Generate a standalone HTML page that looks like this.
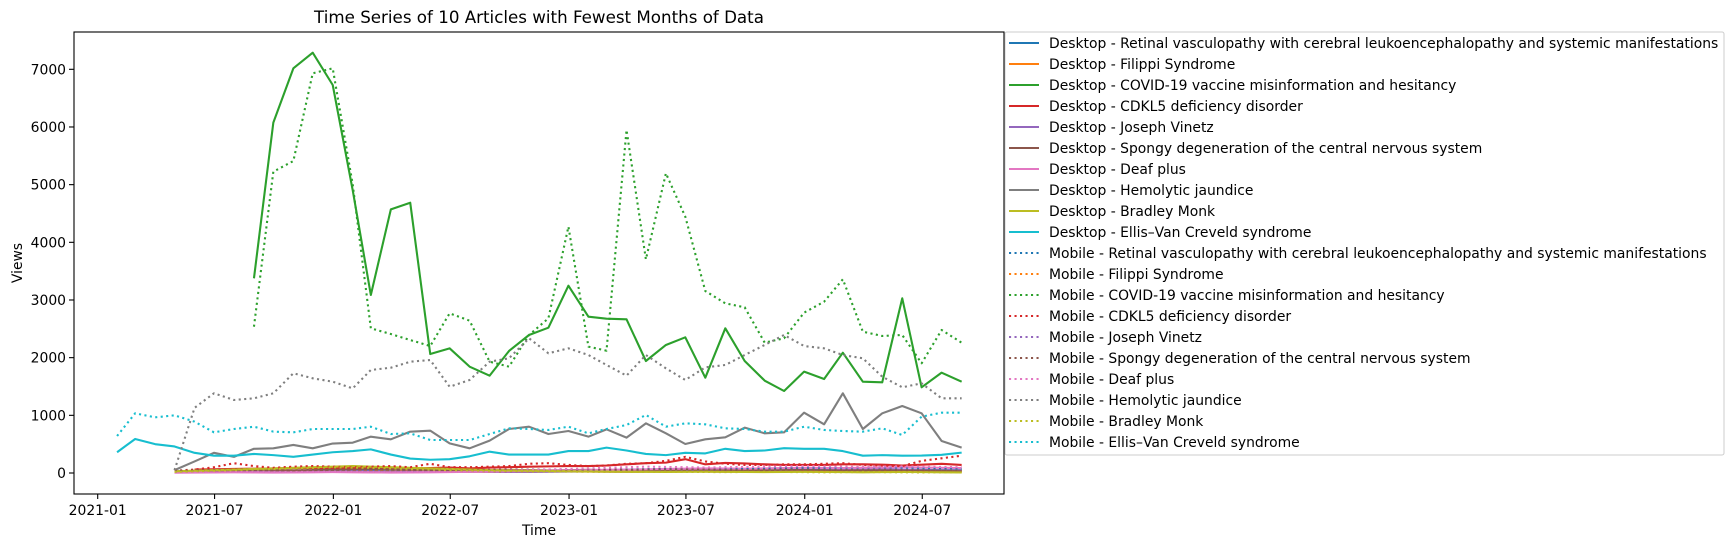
<!DOCTYPE html>
<html><head><meta charset="utf-8"><style>
html,body{margin:0;padding:0;background:#fff;}
svg{display:block;font-family:"DejaVu Sans","Liberation Sans",sans-serif;}
</style></head><body>
<svg id="chart" width="1733" height="547" viewBox="0 0 1733 547" xmlns="http://www.w3.org/2000/svg">
<rect x="0" y="0" width="1733" height="547" fill="#fff"/>
<text x="539" y="23" font-size="16.7" text-anchor="middle" fill="#000">Time Series of 10 Articles with Fewest Months of Data</text>
<text x="539" y="535" font-size="13.9" text-anchor="middle" fill="#000">Time</text>
<text x="0" y="0" font-size="13.9" text-anchor="middle" fill="#000" transform="translate(22,263) rotate(-90)">Views</text>
<defs><clipPath id="plotclip"><rect x="74" y="32" width="930" height="462"/></clipPath></defs>
<g id="series" clip-path="url(#plotclip)"></g>
<rect x="74" y="32" width="930" height="462" fill="none" stroke="#000" stroke-width="1.1"/>
<g id="axes"></g>
<g id="legend"></g>
</svg>
<script>
const articles = ["Retinal vasculopathy with cerebral leukoencephalopathy and systemic manifestations","Filippi Syndrome","COVID-19 vaccine misinformation and hesitancy","CDKL5 deficiency disorder","Joseph Vinetz","Spongy degeneration of the central nervous system","Deaf plus","Hemolytic jaundice","Bradley Monk","Ellis–Van Creveld syndrome"];
const startIdx = [3,3,7,4,3,3,3,3,3,0];
const mobileStartIdx = [3,3,7,3,3,3,3,3,3,0];
const desktopRetinal = [20,25,30,28,30,35,30,28,25,30,35,30,28,30,32,30,35,38,40,35,30,35,40,45,40,38,42,45,50,48,45,50,55,60,55,50,48,52,55,50,48];
const desktopFilippi = [15,20,22,20,25,22,20,18,20,22,25,20,18,20,22,20,25,22,20,25,28,25,22,20,25,28,30,25,22,25,28,30,25,22,25,28,30,28,25,22,20];
const desktopCovid = [3376,6075,7017,7288,6728,4900,3087,4572,4687,2063,2162,1844,1688,2116,2393,2520,3248,2711,2676,2665,1942,2220,2353,1653,2509,1942,1601,1422,1757,1630,2086,1583,1572,3029,1486,1740,1583];
const desktopCdkl5 = [60,65,70,75,80,85,85,80,85,95,90,80,85,95,80,95,100,110,115,120,120,130,150,170,180,240,150,175,165,150,140,140,140,150,150,145,130,145,160,140];
const desktopVinetz = [10,15,18,20,18,15,18,20,22,20,18,15,18,20,22,25,20,18,20,22,25,28,25,22,25,28,30,28,25,30,35,40,45,50,55,60,65,55,50,45,40];
const desktopSpongy = [30,35,40,45,50,48,45,50,55,60,65,60,55,50,45,40,45,50,48,45,50,55,50,45,48,50,55,50,45,40,45,50,48,45,40,42,45,40,38,35,30];
const desktopDeaf = [5,8,10,12,10,8,10,12,15,12,10,8,10,12,15,20,25,30,35,40,45,50,55,60,65,70,75,80,78,75,80,85,90,88,85,90,95,100,95,90,85];
const desktopHemolytic = [50,200,350,280,420,428,486,428,511,526,630,584,717,734,514,428,561,763,803,676,728,630,757,613,861,688,503,584,619,786,688,705,1046,844,1382,763,1035,1162,1035,555,439];
const desktopMonk = [30,40,50,60,70,80,90,100,110,120,110,100,90,80,70,60,50,45,40,35,30,28,25,22,20,18,20,22,20,18,15,18,20,18,15,12,15,18,15,12,10];
const desktopEllis = [360,590,500,460,350,300,300,330,310,280,320,360,380,410,320,250,230,240,290,370,320,320,320,380,380,440,390,330,310,350,340,420,380,390,430,420,420,380,300,310,300,303,315,353];
const mobileRetinal = [30,35,40,38,35,40,45,42,40,45,50,45,40,45,50,48,45,50,55,60,55,50,55,60,65,70,65,60,65,70,75,80,85,90,95,100,95,90,85,80,75];
const mobileFilippi = [20,25,30,28,25,30,35,32,30,28,25,30,35,32,30,28,25,30,35,38,40,38,35,30,28,25,30,35,38,40,38,35,32,30,28,25,28,30,32,30,28];
const mobileCovid = [2537,5225,5410,6931,7017,5000,2509,2410,2306,2202,2769,2641,1930,1844,2393,2682,4271,2191,2121,5948,3705,5197,4445,3156,2942,2873,2260,2336,2780,2971,3359,2450,2376,2393,1902,2480,2260];
const mobileCdkl5 = [40,60,100,170,120,90,110,120,110,100,110,120,100,160,100,100,110,120,160,170,140,120,130,160,170,210,280,200,160,140,140,150,150,160,170,140,130,120,210,255,300];
const mobileVinetz = [15,20,25,28,25,22,20,25,28,30,28,25,22,25,28,30,32,30,28,30,35,38,40,38,35,40,45,50,48,45,50,55,60,58,55,60,65,60,55,50,45];
const mobileSpongy = [40,45,50,55,60,58,55,60,65,70,75,70,65,60,55,50,55,60,58,55,60,65,60,55,58,60,65,60,55,50,55,60,58,55,50,52,55,50,48,45,40];
const mobileDeaf = [10,12,15,18,15,12,15,18,20,18,15,12,15,18,20,25,30,40,50,60,70,80,90,100,110,105,100,95,100,105,110,115,120,115,110,105,110,115,110,105,100];
const mobileHemolytic = [50,1130,1382,1266,1295,1382,1729,1642,1583,1468,1786,1826,1930,1959,1496,1613,1930,1989,2336,2076,2162,2046,1873,1688,2046,1815,1613,1832,1873,2046,2220,2393,2202,2162,2046,1989,1670,1486,1555,1295,1295];
const mobileMonk = [20,30,40,50,60,70,80,90,100,95,90,80,70,60,50,45,40,35,30,28,25,22,20,18,20,22,20,18,15,18,20,18,15,12,15,18,15,12,10,12,10];
const mobileEllis = [641,1035,965,1000,890,705,763,803,717,705,763,763,763,803,676,688,572,572,572,676,775,763,746,803,688,763,832,1006,803,861,844,775,763,717,717,803,746,728,717,775,659,977,1046,1046];
const yTickValues = [0,1000,2000,3000,4000,5000,6000,7000];
const xTickLabels = ["2021-01","2021-07","2022-01","2022-07","2023-01","2023-07","2024-01","2024-07"];

const desktopSeries = [desktopRetinal,desktopFilippi,desktopCovid,desktopCdkl5,desktopVinetz,desktopSpongy,desktopDeaf,desktopHemolytic,desktopMonk,desktopEllis];
const mobileSeries = [mobileRetinal,mobileFilippi,mobileCovid,mobileCdkl5,mobileVinetz,mobileSpongy,mobileDeaf,mobileHemolytic,mobileMonk,mobileEllis];
const colors = ["#1f77b4","#ff7f0e","#2ca02c","#d62728","#9467bd","#8c564b","#e377c2","#7f7f7f","#bcbd22","#17becf"];

const NS = "http://www.w3.org/2000/svg";
const DAY = 86400000;
const T0 = Date.UTC(2021,0,1);
function xScale(ms){ return 97.7 + (ms - T0)/DAY*0.6457; }
function yScale(v){ return 473 - v*0.05767; }
function monthEnd(i){ return Date.UTC(2021, i+1, 0); }
function tickDate(lbl){ const p = lbl.split("-"); return Date.UTC(+p[0], +p[1]-1, 1); }

const gS = document.getElementById("series");
function drawSeries(vals, start, color, dotted, name){
  const pts = vals.map((v,k)=> xScale(monthEnd(start+k)).toFixed(2)+","+yScale(v).toFixed(2)).join(" ");
  const pl = document.createElementNS(NS,"polyline");
  pl.setAttribute("points", pts);
  pl.setAttribute("fill","none");
  pl.setAttribute("stroke", color);
  pl.setAttribute("stroke-width","2.1");
  if (dotted) { pl.setAttribute("stroke-dasharray","2.1 3.4"); pl.setAttribute("stroke-linecap","butt"); }
  pl.setAttribute("stroke-linejoin","round");
  
  
  gS.appendChild(pl);
}
desktopSeries.forEach((s,i)=>drawSeries(s, startIdx[i], colors[i], false, "desktop-line-"+(i+1)));
mobileSeries.forEach((s,i)=>drawSeries(s, mobileStartIdx[i], colors[i], true, "mobile-line-"+(i+1)));

const gA = document.getElementById("axes");
yTickValues.forEach(v=>{
  const y = yScale(v);
  const t = document.createElementNS(NS,"line");
  t.setAttribute("x1",74); t.setAttribute("x2",69); t.setAttribute("y1",y); t.setAttribute("y2",y);
  t.setAttribute("stroke","#000"); t.setAttribute("stroke-width","1.1");
  
  
  gA.appendChild(t);
  const tx = document.createElementNS(NS,"text");
  tx.setAttribute("x",66); tx.setAttribute("y",y+5);
  tx.setAttribute("text-anchor","end"); tx.setAttribute("font-size","13.9");
  tx.textContent = String(v);
  
  
  gA.appendChild(tx);
});
xTickLabels.forEach(l=>{
  const x = xScale(tickDate(l));
  const t = document.createElementNS(NS,"line");
  t.setAttribute("x1",x); t.setAttribute("x2",x); t.setAttribute("y1",494); t.setAttribute("y2",499);
  t.setAttribute("stroke","#000"); t.setAttribute("stroke-width","1.1");
  
  
  gA.appendChild(t);
  const tx = document.createElementNS(NS,"text");
  tx.setAttribute("x",x); tx.setAttribute("y",515);
  tx.setAttribute("text-anchor","middle"); tx.setAttribute("font-size","13.9");
  tx.textContent = l;
  
  
  gA.appendChild(tx);
});

const gL = document.getElementById("legend");
const box = document.createElementNS(NS,"rect");
box.setAttribute("x",1005); box.setAttribute("y",32); box.setAttribute("width",719); box.setAttribute("height",423);
box.setAttribute("rx",2); box.setAttribute("fill","#fff"); box.setAttribute("fill-opacity","0.8");
box.setAttribute("stroke","#ccc"); box.setAttribute("stroke-width","1");


gL.appendChild(box);
const labels = [];
articles.forEach((a,i)=>labels.push({t:"Desktop - "+a, c:colors[i], d:false}));
articles.forEach((a,i)=>labels.push({t:"Mobile - "+a, c:colors[i], d:true}));
labels.forEach((e,k)=>{
  const y = 43 + k*21;
  const ln = document.createElementNS(NS,"line");
  ln.setAttribute("x1",1009); ln.setAttribute("x2",1039); ln.setAttribute("y1",y); ln.setAttribute("y2",y);
  ln.setAttribute("stroke",e.c); ln.setAttribute("stroke-width","2.1");
  if (e.d) ln.setAttribute("stroke-dasharray","2.1 3.4");
  
  
  gL.appendChild(ln);
  const tx = document.createElementNS(NS,"text");
  tx.setAttribute("x",1049); tx.setAttribute("y",y+5);
  tx.setAttribute("font-size","13.9");
  tx.textContent = e.t;
  
  
  gL.appendChild(tx);
});
</script>
</body></html>
